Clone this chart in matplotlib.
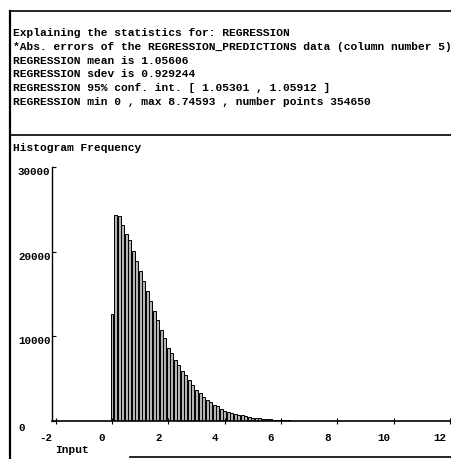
import matplotlib
matplotlib.use("Agg")
import matplotlib.pyplot as plt
from matplotlib.lines import Line2D
from matplotlib.transforms import ScaledTranslation

# ---- data ----
bin_width = 0.125
counts = [12660, 24300, 24200, 23200, 22100, 21400, 20100, 18900, 17750, 16570,
          15380, 14200, 13000, 11950, 10800, 9800, 8640, 8050, 7220, 6630,
          5900, 5440, 4850, 4260, 3670, 3300, 2840, 2490, 2250, 1890,
          1770, 1420, 1180, 1060, 950, 850, 750, 650, 560, 480,
          410, 350, 300, 250, 210, 180, 150, 125, 100, 85,
          70, 55, 45, 35, 28, 22, 17, 13, 10, 8,
          6, 5, 4, 3, 2, 2, 1, 1, 1, 1, 1]
centers = [i * bin_width for i in range(len(counts))]
x_ticks = [-2, 0, 2, 4, 6, 8, 10, 12]
y_ticks = [0, 10000, 20000, 30000]
header_lines = [
    "Explaining the statistics for: REGRESSION",
    "*Abs. errors of the REGRESSION_PREDICTIONS data (column number 5)",
    "REGRESSION mean is 1.05606",
    "REGRESSION sdev is 0.929244",
    "REGRESSION 95% conf. int. [ 1.05301 , 1.05912 ]",
    "REGRESSION min 0 , max 8.74593 , number points 354650",
]

W, H = 452, 460
fig = plt.figure(figsize=(W / 100, H / 100), dpi=100)
fig.patch.set_facecolor("white")
mono = "Liberation Mono"

def fx(px):
    return px / W

def fy(py):
    return 1 - py / H

# frame lines
lw = 1.6
fig.add_artist(Line2D([fx(10), fx(452)], [fy(12), fy(12)], color="black", lw=1.2))
fig.add_artist(Line2D([fx(10), fx(10)], [fy(12), fy(460)], color="black", lw=lw))
fig.add_artist(Line2D([fx(10), fx(452)], [fy(136), fy(136)], color="black", lw=1.2))
fig.add_artist(Line2D([fx(130), fx(452)], [fy(458), fy(458)], color="black", lw=1.2))

# header text
y0 = 33
for i, line in enumerate(header_lines):
    fig.text(fx(13), fy(y0 + i * 13.8), line, family=mono, weight="bold",
             fontsize=8.1, va="center", ha="left", color="black")

fig.text(fx(13), fy(148), "Histogram Frequency", family=mono, weight="bold",
         fontsize=8.1, va="center", ha="left")
fig.text(fx(55), fy(450), "Input", family=mono, weight="bold",
         fontsize=8.1, va="center", ha="left")

# axes
ax_left, ax_right = 52, 452
ax_top, ax_bot = 168, 422
ax = fig.add_axes([fx(ax_left), fy(ax_bot), (ax_right - ax_left) / W, (ax_bot - ax_top) / H])
ax.set_facecolor("none")
ax.bar(centers, counts, width=bin_width * 0.85, color="#b4b4b4",
       edgecolor="black", linewidth=0.7, align="center")
ax.set_xlim(-2.13, 12.07)
ax.set_ylim(0, 30000)
for s in ["top", "right"]:
    ax.spines[s].set_visible(False)
ax.spines["left"].set_linewidth(1.0)
ax.spines["bottom"].set_linewidth(1.2)

ax.set_xticks(x_ticks)
ax.set_xticklabels([str(v) for v in x_ticks])
ax.tick_params(axis="x", direction="inout", length=4, width=0.8, pad=6,
               labelsize=7.8)
for lab in ax.get_xticklabels():
    lab.set_family(mono)
    lab.set_weight("bold")
    lab.set_transform(lab.get_transform() + ScaledTranslation(-0.10, 0, fig.dpi_scale_trans))

ax.set_yticks(y_ticks)
ax.set_yticklabels([])
ax.tick_params(axis="y", direction="in", length=3, width=0.8)
for v in y_ticks:
    py = ax_bot - (v / 30000) * (ax_bot - ax_top) + (6 if v == 0 else 4)
    fig.text(fx(18), fy(py), str(v), family=mono, weight="bold", fontsize=7.8,
             va="center", ha="left")

fig.savefig("out.png", dpi=100, facecolor="white")
